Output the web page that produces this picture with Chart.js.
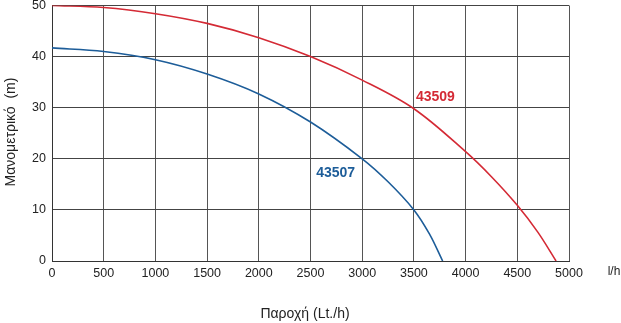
<!DOCTYPE html>
<html>
<head>
<meta charset="utf-8">
<script src="https://cdn.jsdelivr.net/npm/chart.js@4/dist/chart.umd.min.js"></script>
<style>
  html, body { margin: 0; padding: 0; background: #fff; }
  #wrap { width: 621px; height: 323px; position: relative; overflow: hidden; }
  #box { position: absolute; left: 0; top: -8px; width: 621px; height: 331px; }
</style>
</head>
<body>
<div id="wrap"><div id="box"><canvas id="pump-chart"></canvas></div></div>
<script>
// Données
const flow43509 = [0, 500, 1000, 1500, 2000, 2500, 3000, 3500, 4000, 4250, 4500, 4700, 4875];
const head43509 = [50, 49.6, 48.4, 46.5, 43.7, 40, 35.4, 29.8, 21.4, 16.5, 10.9, 5.6, 0];
const flow43507 = [0, 500, 1000, 1500, 2000, 2500, 3000, 3250, 3500, 3650, 3778];
const head43507 = [41.7, 41, 39.4, 36.6, 32.7, 27.2, 20, 15.5, 10, 5.3, 0];
const xTicks = [0, 500, 1000, 1500, 2000, 2500, 3000, 3500, 4000, 4500, 5000];
const yTicks = [0, 10, 20, 30, 40, 50];
const seriesNames = ['43509', '43507'];

const RED = '#d42a35';
const BLUE = '#1d5d99';
const FONT = '"Liberation Sans", Arial, sans-serif';
const OFF = 8; // décalage du canvas

const toPoints = (xs, ys) => xs.map((x, i) => ({ x, y: ys[i] }));

// Texte supplémentaire : titres d'axes, unité, noms des courbes
const labelsPlugin = {
  id: 'labels',
  afterDraw(chart) {
    const c = chart.ctx;
    const sx = chart.scales.x, sy = chart.scales.y;
    c.save();
    c.fillStyle = '#222';
    c.font = '14px ' + FONT;
    c.textAlign = 'center';
    c.textBaseline = 'middle';
    c.fillText('Παροχή (Lt./h)', 305, 314 + OFF);
    c.font = '12px ' + FONT;
    c.fillText('l/h', 614, 272 + OFF);
    c.translate(11, 132 + OFF);
    c.rotate(-Math.PI / 2);
    c.font = '14px ' + FONT;
    c.fillText('Μανομετρικό  (m)', 0, 0);
    c.restore();

    c.save();
    c.font = 'bold 14px ' + FONT;
    c.textAlign = 'left';
    c.textBaseline = 'middle';
    c.fillStyle = RED;
    c.fillText(seriesNames[0], sx.getPixelForValue(3520), sy.getPixelForValue(32));
    c.fillStyle = BLUE;
    c.fillText(seriesNames[1], sx.getPixelForValue(2555), sy.getPixelForValue(17.2));
    c.restore();
  }
};

const ctx = document.getElementById('pump-chart').getContext('2d');
const chart = new Chart(ctx, {
  type: 'line',
  data: {
    datasets: [
      { label: seriesNames[0], data: toPoints(flow43509, head43509), borderColor: RED, borderWidth: 1.6, pointRadius: 0, tension: 0.35, fill: false },
      { label: seriesNames[1], data: toPoints(flow43507, head43507), borderColor: BLUE, borderWidth: 1.6, pointRadius: 0, tension: 0.35, fill: false }
    ]
  },
  options: {
    responsive: true,
    maintainAspectRatio: false,
    animation: false,
    layout: { padding: { top: 0, right: 52, left: 0, bottom: 0 } },
    plugins: { legend: { display: false }, tooltip: { enabled: false } },
    scales: {
      x: {
        type: 'linear', min: 0, max: 5000,
        afterBuildTicks: s => { s.ticks = xTicks.map(v => ({ value: v })); },
        afterFit: s => { s.height = 62; },
        grid: { color: '#555', lineWidth: 1, drawTicks: false },
        border: { color: '#333', width: 1 },
        ticks: { color: '#222', font: { family: FONT, size: 12.5 }, padding: 5, maxRotation: 0, callback: v => String(v) }
      },
      y: {
        min: 0, max: 50,
        afterBuildTicks: s => { s.ticks = yTicks.map(v => ({ value: v })); },
        afterFit: s => { s.width = 52; },
        grid: { color: '#444', lineWidth: 1, drawTicks: false },
        border: { color: '#333', width: 1 },
        ticks: { color: '#222', font: { family: FONT, size: 12.5 }, padding: 6, callback: v => String(v) }
      }
    }
  },
  plugins: [labelsPlugin]
});
</script>
</body>
</html>
